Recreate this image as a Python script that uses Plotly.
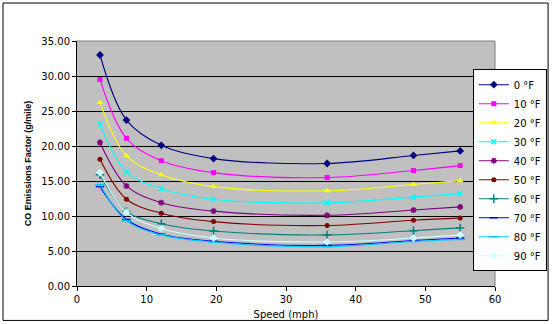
import plotly.graph_objects as go

# Average speed of each driving cycle (mph)
speed = [3.3, 7.1, 12.1, 19.6, 35.9, 48.3, 55.0]

# CO emission factors (g/mile) by ambient temperature
temp_labels = ["0 °F", "10 °F", "20 °F", "30 °F", "40 °F",
               "50 °F", "60 °F", "70 °F", "80 °F", "90 °F"]
co_0F = [33.0, 23.7, 20.1, 18.2, 17.5, 18.65, 19.3]
co_10F = [29.5, 21.1, 17.9, 16.2, 15.5, 16.5, 17.2]
co_20F = [26.2, 18.6, 15.9, 14.2, 13.6, 14.5, 15.05]
co_30F = [23.1, 16.3, 13.9, 12.4, 11.9, 12.7, 13.2]
co_40F = [20.5, 14.3, 11.9, 10.7, 10.1, 10.85, 11.3]
co_50F = [18.1, 12.4, 10.4, 9.2, 8.65, 9.4, 9.7]
co_60F = [15.9, 10.65, 8.9, 7.85, 7.3, 7.9, 8.3]
co_70F = [14.2, 9.5, 7.4, 6.4, 5.8, 6.5, 6.85]
co_80F = [14.5, 9.3, 7.3, 6.25, 5.6, 6.35, 6.65]
co_90F = [16.2, 10.5, 8.2, 6.85, 6.3, 6.85, 7.3]

series = [co_0F, co_10F, co_20F, co_30F, co_40F,
          co_50F, co_60F, co_70F, co_80F, co_90F]

colors = ["#000080", "#FF00FF", "#FFFF00", "#00FFFF", "#800080",
          "#800000", "#008080", "#0000FF", "#00CCFF", "#CCFFFF"]
symbols = ["diamond", "square", "triangle-up", "x-thin", "asterisk",
           "circle", "cross-thin", "line-ew", "line-ew", "diamond"]
sizes = [6, 5, 6, 5, 5, 5, 6, 6, 7, 6]
stroked = {"x-thin", "asterisk", "cross-thin", "line-ew"}

fig = go.Figure()
for label, vals, col, sym, sz in zip(temp_labels, series, colors, symbols, sizes):
    fig.add_trace(go.Scatter(
        x=speed, y=vals, name=label, mode="lines+markers",
        line=dict(color=col, width=1.1, shape="spline", smoothing=1),
        marker=dict(symbol=sym, size=sz, color=col,
                    line=dict(color=col, width=1.5 if sym in stroked else 0)),
    ))

tick_font = dict(family="DejaVu Sans", size=10, color="black")

fig.update_layout(
    width=552, height=324,
    margin=dict(l=77, r=57, t=41, b=37.5, autoexpand=False),
    paper_bgcolor="white",
    plot_bgcolor="#C0C0C0",
    showlegend=True,
    legend=dict(
        x=1.124, y=0.885, xanchor="right", yanchor="top",
        bgcolor="white", bordercolor="black", borderwidth=1,
        font=dict(family="DejaVu Sans", size=10, color="black"),
        itemwidth=30, tracegroupgap=0,
    ),
    xaxis=dict(
        range=[0, 60], dtick=10, tick0=0,
        showgrid=False, zeroline=False,
        showline=True, linecolor="black", linewidth=1,
        ticks="outside", ticklen=4, tickcolor="black",
        tickfont=tick_font,
        title=dict(text="Speed (mph)", font=tick_font, standoff=6),
    ),
    yaxis=dict(
        range=[0, 35], dtick=5, tick0=0, tickformat=".2f",
        showgrid=True, gridcolor="black", gridwidth=1, zeroline=False,
        showline=True, linecolor="black", linewidth=1,
        ticks="outside", ticklen=4, tickcolor="black",
        tickfont=tick_font,
        title=dict(text="<b>CO Emissions Factor (g/mile)</b>",
                   font=dict(family="Liberation Sans", size=9, color="black"),
                   standoff=8),
    ),
    shapes=[
        # gray frame on top and right of the plotting area
        dict(type="line", xref="paper", yref="paper", x0=0, x1=1, y0=1, y1=1,
             line=dict(color="#808080", width=1)),
        dict(type="line", xref="paper", yref="paper", x0=1, x1=1, y0=0, y1=1,
             line=dict(color="#808080", width=1)),
        # outer chart border
        dict(type="rect", xref="paper", yref="paper",
             x0=-0.177, x1=1.127, y0=-0.1405, y1=1.155,
             line=dict(color="black", width=1), fillcolor="rgba(0,0,0,0)"),
    ],
)

fig.write_html("out.html")
